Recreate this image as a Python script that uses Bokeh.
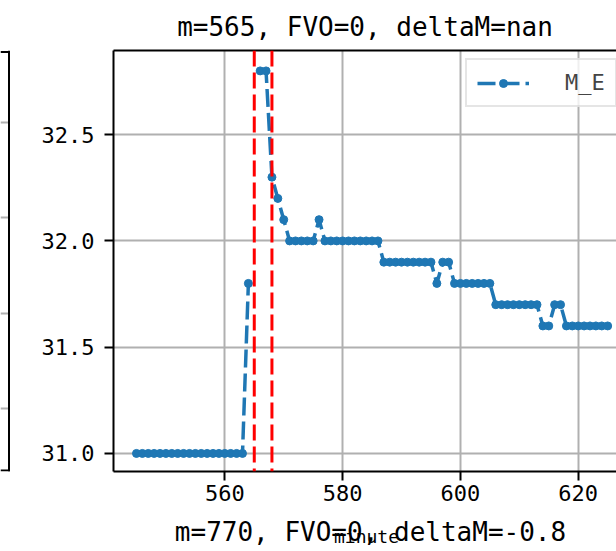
from bokeh.plotting import figure
from bokeh.layouts import row, column
from bokeh.models import (Range1d, FixedTicker, PrintfTickFormatter, Span, Title,
                          LinearAxis, Legend, LegendItem, Grid)
from bokeh.core.properties import value
from bokeh.embed import file_html
from bokeh.resources import INLINE

# ---- data ----
minute_start = 545
NAN = float("nan")
m_e = [31.0, 31.0, 31.0, 31.0, 31.0, 31.0, 31.0, 31.0, 31.0, 31.0,   # 545-554
       31.0, 31.0, 31.0, 31.0, 31.0, 31.0, 31.0, 31.0, 31.0,         # 555-563
       31.8, NAN, 32.8, 32.8, 32.3, 32.2, 32.1,                       # 564-570
       32.0, 32.0, 32.0, 32.0, 32.0, 32.1,                            # 571-576
       32.0, 32.0, 32.0, 32.0, 32.0, 32.0, 32.0, 32.0, 32.0, 32.0,   # 577-586
       31.9, 31.9, 31.9, 31.9, 31.9, 31.9, 31.9, 31.9, 31.9,         # 587-595
       31.8, 31.9, 31.9,                                              # 596-598
       31.8, 31.8, 31.8, 31.8, 31.8, 31.8, 31.8,                      # 599-605
       31.7, 31.7, 31.7, 31.7, 31.7, 31.7, 31.7, 31.7,                # 606-613
       31.6, 31.6, 31.7, 31.7,                                        # 614-617
       31.6, 31.6, 31.6, 31.6, 31.6, 31.6, 31.6, 31.6]                # 618-625
minutes = list(range(minute_start, minute_start + len(m_e)))
event_lines = [565, 568]
x_ticks = [560, 580, 600, 620]
y_ticks = [31.0, 31.5, 32.0, 32.5]
neighbour_grid = [63, 159, 255, 351]     # grid rows of the neighbouring panel (only its edge shows)
title_text = "m=565, FVO=0, deltaM=nan"
next_title_text = "m=770, FVO=0, deltaM=-0.8"
x_label_text = "minute"
series_name = "M_E"

FONT = "DejaVu Sans Mono"
BLUE = "#1f77b4"
TOP_H = 511
BOT_H = 40

# ---- left stub (right edge of neighbouring subplot) ----
stub = figure(width=10, height=TOP_H, output_backend="svg", toolbar_location=None,
              x_axis_type=None, y_axis_type=None,
              x_range=Range1d(0, 10), y_range=Range1d(0, 423),
              min_border_left=0, min_border_right=0, min_border_top=49, min_border_bottom=39)
stub.outline_line_color = None
stub.add_layout(Grid(dimension=1, ticker=FixedTicker(ticks=neighbour_grid),
                     grid_line_color="#b0b0b0", grid_line_width=2))
stub.add_layout(Span(location=8.5, dimension="height", line_color="black", line_width=2))
stub.add_layout(Span(location=421.5, dimension="width", line_color="black", line_width=2))
stub.add_layout(Span(location=1, dimension="width", line_color="black", line_width=2))

# ---- main figure ----
p = figure(width=606, height=TOP_H, output_backend="svg", toolbar_location=None,
           x_range=Range1d(541.1, 626.5), y_range=Range1d(30.915, 32.896),
           min_border_left=103, min_border_right=0, min_border_top=50, min_border_bottom=40)
p.outline_line_color = None
p.background_fill_color = "white"
p.border_fill_color = "white"

line_r = p.line(minutes, m_e, line_color=BLUE, line_width=3.5, line_dash="18 6")
pts_r = p.scatter(minutes, m_e, size=8, color=BLUE)

for loc in event_lines:
    p.add_layout(Span(location=loc, dimension="height", line_color="red",
                      line_width=3, line_dash="16 6"))

for ax in (p.xaxis[0], p.yaxis[0]):
    ax.axis_line_width = 2
    ax.axis_line_color = "black"
    ax.major_tick_line_width = 2
    ax.major_tick_out = 9
    ax.major_tick_in = 0
    ax.minor_tick_line_color = None
    ax.major_label_text_font = FONT
    ax.major_label_text_font_size = "22px"
    ax.major_label_text_color = "black"

p.xaxis.ticker = FixedTicker(ticks=x_ticks)
p.yaxis.ticker = FixedTicker(ticks=y_ticks)
p.yaxis.formatter = PrintfTickFormatter(format="%.1f")
p.xaxis.major_label_standoff = 4
p.yaxis.major_label_standoff = 10

top_axis = LinearAxis(axis_line_width=2, axis_line_color="black",
                      major_tick_line_color=None, minor_tick_line_color=None,
                      major_label_text_font_size="0px", ticker=FixedTicker(ticks=[]))
p.add_layout(top_axis, "above")

p.title = Title(text=title_text, align="center", offset=6, standoff=18,
                text_font=FONT, text_font_size="26px", text_font_style="normal",
                text_color="black")

p.xgrid.ticker = FixedTicker(ticks=x_ticks)
p.ygrid.ticker = FixedTicker(ticks=y_ticks)
p.grid.grid_line_color = "#b0b0b0"
p.grid.grid_line_width = 2

legend = Legend(items=[LegendItem(label=series_name, renderers=[line_r, pts_r])],
                location=(352, 364), padding=10, glyph_width=52, label_standoff=36,
                label_text_font=FONT, label_text_font_size="22px",
                border_line_color="#cccccc", border_line_width=2,
                background_fill_alpha=0.8)
p.add_layout(legend)

# ---- bottom strip: x label and the title of the next panel (they overlap) ----
bot = figure(width=616, height=BOT_H, output_backend="svg", toolbar_location=None,
             x_axis_type=None, y_axis_type=None,
             x_range=Range1d(0, 616), y_range=Range1d(0, BOT_H),
             min_border_left=0, min_border_right=0, min_border_top=0, min_border_bottom=0)
bot.outline_line_color = None
bot.grid.visible = False
bot.text(x=[370], y=[20], text=[next_title_text], text_align="center",
         text_baseline="middle", text_font=value(FONT), text_font_size="26px",
         text_color="black")
bot.text(x=[366], y=[15], text=[x_label_text], text_align="center",
         text_baseline="middle", text_font=value(FONT), text_font_size="18px",
         text_color="black")

layout = column(row(stub, p), bot)
open("out.html", "w").write(file_html(layout, INLINE))
